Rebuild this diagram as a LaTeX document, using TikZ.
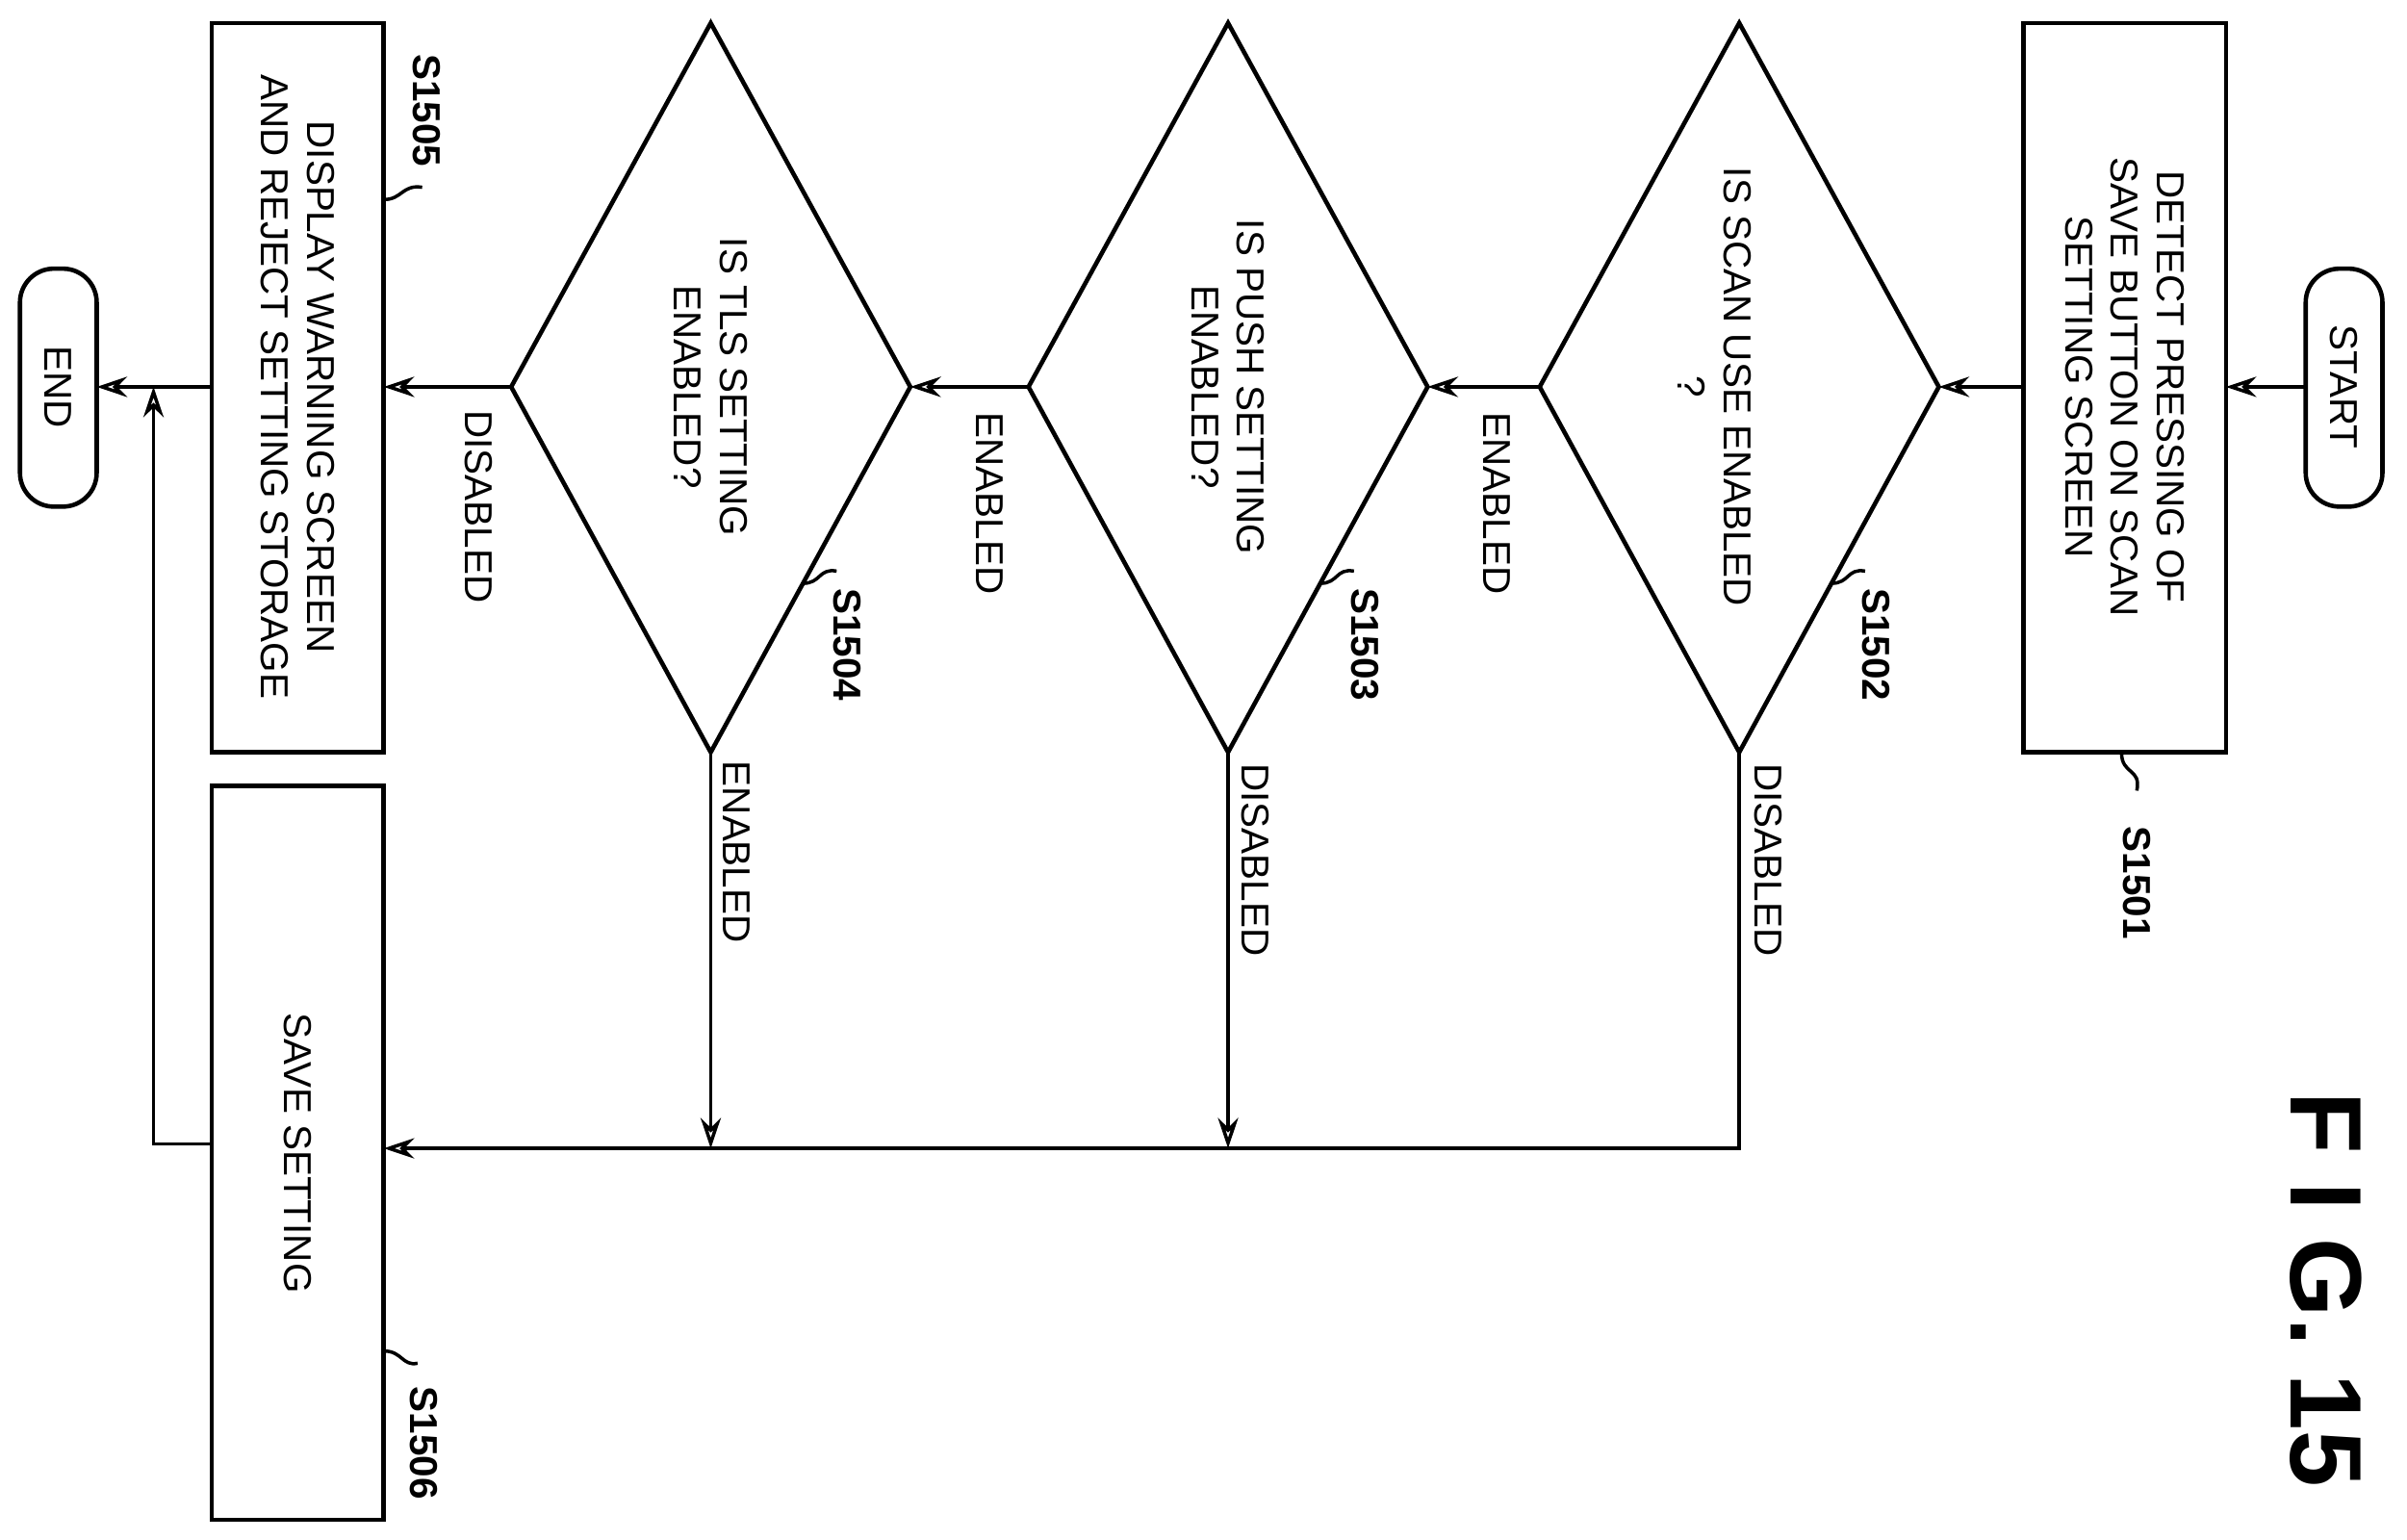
\documentclass[tikz,border=0pt]{standalone}
\usepackage{fontspec}
\setmainfont{Liberation Sans}
\usetikzlibrary{arrows.meta}
\begin{document}
\begin{tikzpicture}[x=0.01595cm,y=-0.01595cm,
  every node/.style={font=\fontsize{11.5}{13.5}\selectfont},
  txt/.style={rotate=-90,align=center,inner sep=0pt},
  lbl/.style={rotate=-90,inner sep=1pt,font=\bfseries\fontsize{11.5}{13.5}\selectfont},
  boxs/.style={draw,line width=1.3pt},
  term/.style={draw,line width=1.3pt,rounded corners=10pt},
  ln/.style={line width=1pt},
  arr/.style={line width=1pt,-{Stealth[length=9pt,width=6pt,open]}}]
\useasboundingbox (0,0) rectangle (1568,1003);
% terminals and boxes
\draw[term] (1502,175) rectangle (1552,330);
\node[txt] (start) at (1527,252) {START};
\coordinate (startL) at (1502,252);
\draw[term] (13,175) rectangle (63,330);
\node[txt] (endn) at (38,252) {END};
\coordinate (endR) at (63,252);
\draw[boxs] (1318,15) rectangle (1450,490);
\node[txt] (s1501) at (1384,252) {DETECT PRESSING OF\\SAVE BUTTON ON SCAN\\SETTING SCREEN};
\coordinate (s1501R) at (1450,252); \coordinate (s1501L) at (1318,252);
\draw[boxs] (138,15) rectangle (250,490);
\node[txt] (s1505) at (194,252) {DISPLAY WARNING SCREEN\\AND REJECT SETTING STORAGE};
\coordinate (s1505R) at (250,252); \coordinate (s1505L) at (138,252);
\draw[boxs] (138,512) rectangle (250,990);
\node[txt] (s1506) at (194,751) {SAVE SETTING};
\coordinate (s1506R) at (250,748); \coordinate (s1506L) at (138,745);
% diamonds
\foreach \n/\cx in {a/1133,b/800,c/463}{
  \coordinate (\n T) at (\cx,15); \coordinate (\n B) at (\cx,490);
  \coordinate (\n R) at (\cx+130,252); \coordinate (\n L) at (\cx-130,252);
  \draw[line width=1.3pt] (\n T)--(\n R)--(\n B)--(\n L)--cycle;
}
\node[txt] (s1502) at (1117,252) {IS SCAN USE ENABLED\\?};
\node[txt] (s1503) at (800,252) {IS PUSH SETTING\\ENABLED?};
\node[txt] (s1504) at (463,252) {IS TLS SETTING\\ENABLED?};
% connectors
\draw[arr] (startL) -- (s1501R);
\draw[arr] (s1501L) -- (aR);
\draw[arr] (aL) -- (bR);
\node[txt] at (975,328) {ENABLED};
\draw[arr] (bL) -- (cR);
\node[txt] at (645,328) {ENABLED};
\draw[arr] (cL) -- (s1505R);
\node[txt] at (312,330) {DISABLED};
\draw[arr] (s1505L) -- (endR);
\coordinate (j) at (1133,748);
\draw[arr] (aB) -- (j) -- (s1506R);
\node[txt] at (1152,560) {DISABLED};
\draw[arr] (bB) -- (800,748);
\node[txt] at (818,560) {DISABLED};
\draw[arr] (cB) -- (463,748);
\node[txt] at (480,555) {ENABLED};
\coordinate (up) at (100,252);
\draw[arr] (s1506L) -- (100,745) -- (up);
% step labels with squiggles
\draw[ln] (1382,490) .. controls (1382,505) and (1395,500) .. (1392,515);
\node[lbl] at (1392,575) {S1501};
\draw[ln] (1193,380) .. controls (1205,380) and (1203,370) .. (1215,372);
\node[lbl] at (1222,420) {S1502};
\draw[ln] (860,380) .. controls (872,380) and (870,370) .. (882,372);
\node[lbl] at (889,420) {S1503};
\draw[ln] (523,380) .. controls (535,380) and (533,370) .. (545,372);
\node[lbl] at (552,420) {S1504};
\draw[ln] (250,130) .. controls (262,130) and (262,120) .. (275,122);
\node[lbl] at (278,72) {S1505};
\draw[ln] (250,880) .. controls (262,880) and (262,890) .. (272,888);
\node[lbl] at (276,940) {S1506};
\node[rotate=-90,inner sep=0pt,font=\bfseries\fontsize{30}{34}\selectfont] at (1515,840) {F I G. 15};
\end{tikzpicture}
\end{document}
